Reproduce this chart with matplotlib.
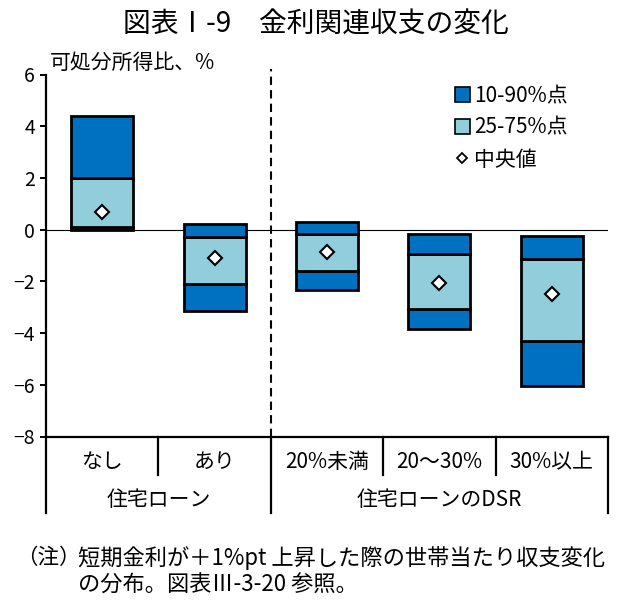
import numpy as np
import matplotlib
matplotlib.use("Agg")
import matplotlib.pyplot as plt
from matplotlib.patches import Patch
from matplotlib.lines import Line2D

plt.rcParams['font.family'] = ['Noto Sans CJK JP', 'DejaVu Sans']

# データ
categories = ['なし', 'あり', '20%未満', '20～30%', '30%以上']
p10 = [0.0, -3.15, -2.35, -3.85, -6.05]
p25 = [0.1, -2.1, -1.6, -3.05, -4.3]
median = [0.7, -1.1, -0.85, -2.05, -2.5]
p75 = [2.0, -0.3, -0.15, -0.95, -1.15]
p90 = [4.4, 0.2, 0.3, -0.15, -0.25]
groups = ['住宅ローン', '住宅ローンのDSR']
group_bounds = [0, 2, 5]
yticks = [-8, -6, -4, -2, 0, 2, 4, 6]

dark = '#0070C0'
light = '#92CDDC'

fig = plt.figure(figsize=(6.2, 6.08), dpi=100)
ax = fig.add_axes([46/620, 1-436.5/608, 562/620, 362/608])

x = np.arange(len(categories)) + 0.5
p10 = np.array(p10); p25 = np.array(p25); p75 = np.array(p75); p90 = np.array(p90)

ax.axhline(0, color='black', lw=0.8, zorder=1)
bw = 0.55
ax.bar(x, p25 - p10, bottom=p10, width=bw, color=dark, edgecolor='black', lw=2.0, zorder=2)
ax.bar(x, p75 - p25, bottom=p25, width=bw, color=light, edgecolor='black', lw=2.0, zorder=2)
ax.bar(x, p90 - p75, bottom=p75, width=bw, color=dark, edgecolor='black', lw=2.0, zorder=2)
ax.plot(x, median, ls='none', marker='D', ms=7, mfc='white', mec='black', mew=1.5, zorder=3)

ax.set_xlim(0, len(categories))
ax.set_ylim(-8, 6)
ax.set_yticks(yticks)
ax.set_xticks([])
ax.tick_params(axis='y', direction='out', length=4, width=1.4, labelsize=14, pad=4)
for s in ['top', 'right']:
    ax.spines[s].set_visible(False)
for s in ['left', 'bottom']:
    ax.spines[s].set_linewidth(1.6)

# 区切りの破線
ax.plot([2, 2], [-8, 6.2], color='black', lw=1.5, ls=(0, (4, 2.5)), clip_on=False, zorder=1)

# カテゴリラベルと区切り線
tr = ax.get_xaxis_transform()
for i, c in enumerate(categories):
    ax.text(i + 0.5, -0.070, c, transform=tr, ha='center', va='center', fontsize=15)
for b in range(len(categories) + 1):
    end = -0.211 if b in group_bounds else -0.106
    ax.plot([b, b], [0, end], transform=tr, color='black', lw=1.6, clip_on=False)
for g, lo, hi in zip(groups, group_bounds[:-1], group_bounds[1:]):
    ax.text((lo + hi) / 2, -0.175, g, transform=tr, ha='center', va='center', fontsize=15)

ax.text(0.007, 1.032, '可処分所得比、%', transform=ax.transAxes, ha='left', va='center', fontsize=15)

handles = [Patch(facecolor=dark, edgecolor='black', lw=1.2),
           Patch(facecolor=light, edgecolor='black', lw=1.2),
           Line2D([], [], ls='none', marker='D', ms=5.5, mfc='white', mec='black', mew=1.3)]
fig.legend(handles, ['10-90%点', '25-75%点', '中央値'], loc='upper left',
           bbox_to_anchor=(455/620, 1-85/608), frameon=False, fontsize=15,
           borderpad=0, borderaxespad=0, handlelength=0.7, handleheight=0.7,
           handletextpad=0.2, labelspacing=0.47)

fig.text(316/620, 1-25/608, '図表Ⅰ-9　金利関連収支の変化', ha='center', va='center', fontsize=20)
fig.text(16/620, 1-558/608, '（注）', ha='left', va='center', fontsize=15.5)
fig.text(78/620, 1-558/608, '短期金利が＋1%pt 上昇した際の世帯当たり収支変化', ha='left', va='center', fontsize=16)
fig.text(78/620, 1-585/608, 'の分布。図表Ⅲ-3-20 参照。', ha='left', va='center', fontsize=16)

fig.savefig('out.png', dpi=100)
